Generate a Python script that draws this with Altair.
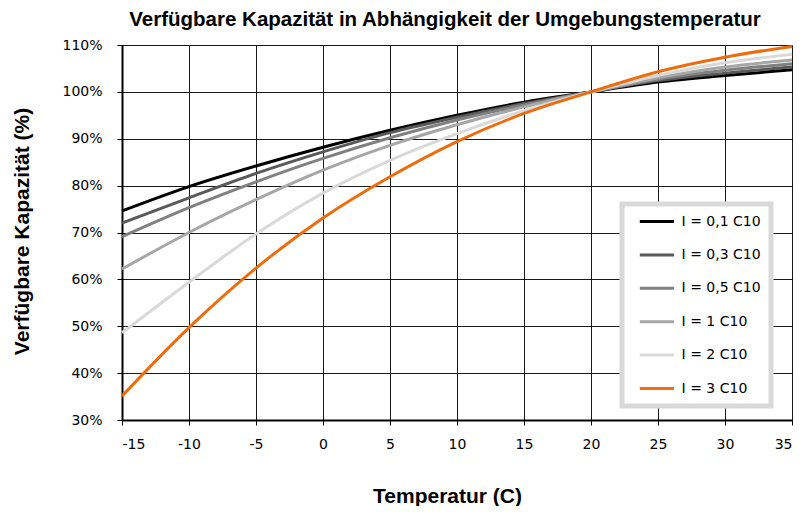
import altair as alt
import pandas as pd

temps = [-15, -10, -5, 0, 5, 10, 15, 20, 25, 30, 35]
series_names = ["I = 0,1 C10", "I = 0,3 C10", "I = 0,5 C10", "I = 1 C10", "I = 2 C10", "I = 3 C10"]
s01 = [74.6, 79.8, 84.2, 88.2, 91.8, 95.0, 97.8, 100.0, 102.1, 103.5, 104.7]
s03 = [72.0, 77.4, 82.6, 87.2, 91.3, 94.6, 97.5, 100.0, 102.4, 104.0, 105.3]
s05 = [69.1, 75.3, 80.8, 85.8, 90.2, 94.0, 97.2, 100.0, 102.7, 104.6, 106.0]
s1 = [62.2, 70.0, 77.0, 83.3, 88.6, 93.0, 96.8, 100.0, 103.0, 105.3, 106.8]
s2 = [48.6, 59.4, 69.7, 78.4, 85.4, 91.1, 96.0, 100.0, 103.5, 106.2, 108.0]
s3 = [35.1, 49.7, 62.4, 73.1, 81.9, 89.4, 95.4, 100.0, 104.3, 107.4, 109.7]
colors = ["#000000", "#595959", "#808080", "#a6a6a6", "#d9d9d9", "#ee6c0c"]

rows = []
for name, vals in zip(series_names, [s01, s03, s05, s1, s2, s3]):
    for t, v in zip(temps, vals):
        rows.append({"Temperatur": t, "Kapazitaet": v / 100.0, "Serie": name})
df = pd.DataFrame(rows)

chart = alt.Chart(df).mark_line(strokeWidth=3, interpolate="monotone").encode(
    x=alt.X("Temperatur:Q",
            scale=alt.Scale(domain=[-15, 35], nice=False, zero=False),
            axis=alt.Axis(values=temps, title="Temperatur (C)", titleX=325, titleY=82,
                          titleBaseline="alphabetic", titleAlign="center",
                          labelExpr="'' + datum.value",
                          labelPadding=12, labelFontSize=14)),
    y=alt.Y("Kapazitaet:Q",
            scale=alt.Scale(domain=[0.3, 1.1], nice=False, zero=False),
            axis=alt.Axis(values=[0.3, 0.4, 0.5, 0.6, 0.7, 0.8, 0.9, 1.0, 1.1], format=".0%",
                          title="Verfügbare Kapazität (%)", titleX=-100, titleY=186,
                          titleAngle=-90, titleBaseline="middle", titleAlign="center",
                          labelPadding=15, labelFontSize=14)),
    color=alt.Color("Serie:N", sort=series_names,
                    scale=alt.Scale(domain=series_names, range=colors),
                    legend=alt.Legend(title=None, orient="none", legendX=500, legendY=159,
                                      symbolType="M-3,0L3,0", symbolSize=130, symbolStrokeWidth=3,
                                      labelFont="DejaVu Sans", labelFontSize=14, labelColor="#000",
                                      symbolOffset=17.4, labelOffset=17.2, rowPadding=18.4, padding=10,
                                      strokeColor="#d9d9d9", fillColor="#ffffff")),
    order=alt.Order("order:Q"),
).transform_calculate(
    order="indexof(['I = 0,1 C10','I = 0,3 C10','I = 0,5 C10','I = 1 C10','I = 2 C10','I = 3 C10'], datum.Serie)"
).properties(
    width=670, height=375,
    title=alt.TitleParams("Verfügbare Kapazität in Abhängigkeit der Umgebungstemperatur",
                          font="Liberation Sans", fontSize=20.5, fontWeight="bold", color="#000",
                          anchor="middle", dx=-12, offset=8),
    autosize=alt.AutoSizeParams(type="none"),
    padding={"left": 114, "top": 37, "right": 2, "bottom": 86},
).configure_axis(
    domainColor="#000", domainWidth=2, gridColor="#000", gridWidth=1, gridOpacity=0.9,
    tickColor="#000", tickSize=5, tickWidth=1,
    labelFont="DejaVu Sans", labelColor="#000",
    titleFont="Liberation Sans", titleFontSize=21, titleFontWeight="bold", titleColor="#000",
).configure_legend(
    strokeWidth=5
).configure_view(stroke=None)

chart.save("out.html", embed_options={"renderer": "svg", "actions": False})
